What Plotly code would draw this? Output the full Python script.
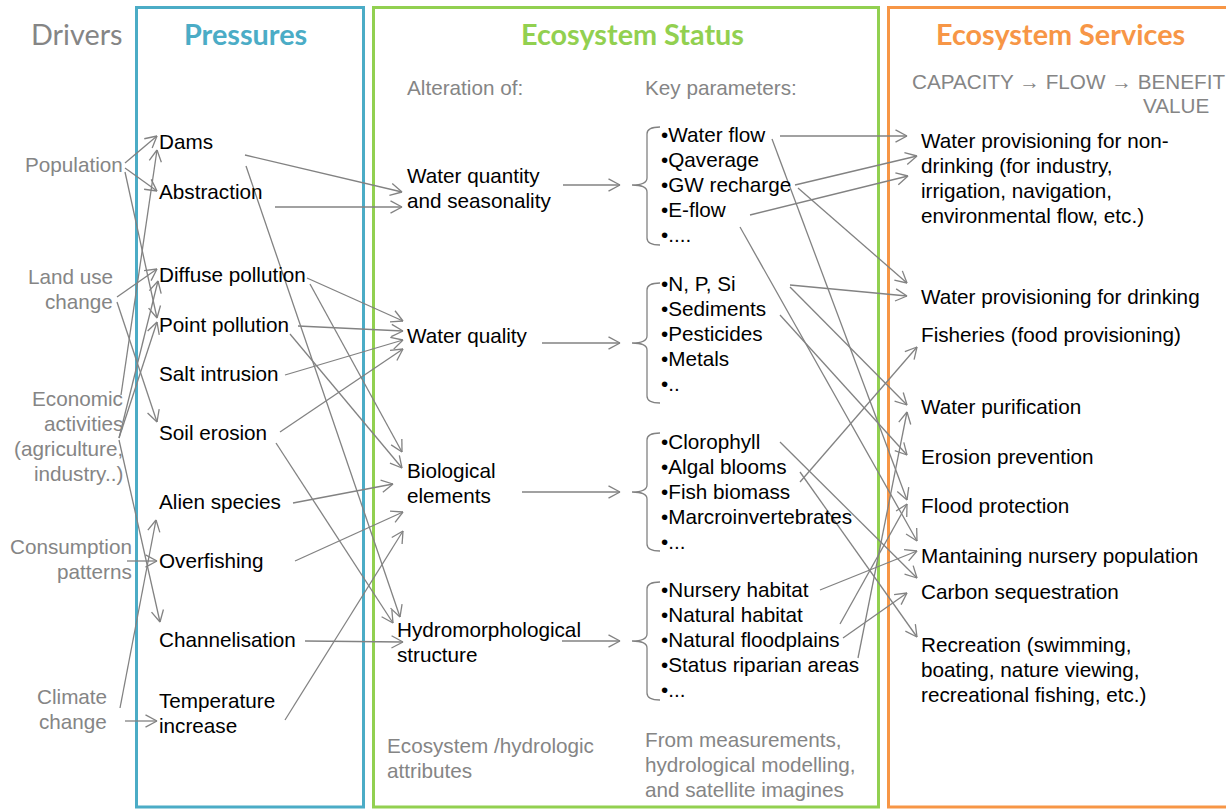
import math
import plotly.graph_objects as go

# ---------------- DATA (labels and links) ----------------
column_titles = ["Drivers", "Pressures", "Ecosystem Status", "Ecosystem Services"]

drivers = ["Population", "Land use\nchange", "Economic\nactivities\n(agriculture,\nindustry..)",
           "Consumption\npatterns", "Climate\nchange"]

pressures = ["Dams", "Abstraction", "Diffuse pollution", "Point pollution", "Salt intrusion",
             "Soil erosion", "Alien species", "Overfishing", "Channelisation", "Temperature\nincrease"]

alterations = ["Water quantity\nand seasonality", "Water quality", "Biological\nelements",
               "Hydromorphological\nstructure"]

quantity_params = ["Water flow", "Qaverage", "GW recharge", "E-flow", "...."]
quality_params = ["N, P, Si", "Sediments", "Pesticides", "Metals", ".."]
biological_params = ["Clorophyll", "Algal blooms", "Fish biomass", "Marcroinvertebrates", "..."]
hydro_params = ["Nursery habitat", "Natural habitat", "Natural floodplains", "Status riparian areas", "..."]
parameter_groups = [quantity_params, quality_params, biological_params, hydro_params]

services = ["Water provisioning for non-\ndrinking (for industry,\nirrigation, navigation,\nenvironmental flow, etc.)",
            "Water provisioning for drinking", "Fisheries (food provisioning)", "Water purification",
            "Erosion prevention", "Flood protection", "Mantaining nursery population",
            "Carbon sequestration",
            "Recreation (swimming,\nboating, nature viewing,\nrecreational fishing, etc.)"]

subheadings = ["Alteration of:", "Key parameters:", "CAPACITY \u2192 FLOW \u2192 BENEFIT", "VALUE",
               "Ecosystem /hydrologic\nattributes",
               "From measurements,\nhydrological modelling,\nand satellite imagines"]

driver_links = [("Population", "Dams"), ("Population", "Abstraction"), ("Population", "Point pollution"),
                ("Land use", "Diffuse pollution"), ("Land use", "Soil erosion"),
                ("Economic", "Dams"), ("Economic", "Diffuse pollution"), ("Economic", "Point pollution"),
                ("Economic", "Channelisation"), ("Consumption", "Overfishing"),
                ("Climate", "Alien species"), ("Climate", "Temperature")]

pressure_links = [("Dams", "Water quantity"), ("Dams", "Hydromorphological"), ("Abstraction", "Water quantity"),
                  ("Diffuse pollution", "Water quality"), ("Diffuse pollution", "Biological"),
                  ("Point pollution", "Water quality"), ("Point pollution", "Biological"),
                  ("Salt intrusion", "Water quality"), ("Soil erosion", "Water quality"),
                  ("Soil erosion", "Hydromorphological"), ("Alien species", "Biological"),
                  ("Overfishing", "Biological"), ("Channelisation", "Hydromorphological"),
                  ("Temperature", "Biological")]

status_links = [("Water quantity", "quantity"), ("Water quality", "quality"),
                ("Biological", "biological"), ("Hydromorphological", "hydro")]

service_links = [("Water flow", "Water provisioning for non"), ("Water flow", "Flood protection"),
                 ("GW recharge", "Water provisioning for non"), ("GW recharge", "Water provisioning for drinking"),
                 ("E-flow", "Water provisioning for non"), ("E-flow", "Mantaining nursery"),
                 ("N, P, Si", "Water provisioning for drinking"), ("N, P, Si", "Water purification"),
                 ("Sediments", "Erosion prevention"), ("Clorophyll", "Carbon sequestration"),
                 ("Algal blooms", "Recreation"), ("Fish biomass", "Fisheries"),
                 ("Nursery habitat", "Mantaining nursery"), ("Natural habitat", "Flood protection"),
                 ("Natural floodplains", "Carbon sequestration"), ("Status riparian areas", "Water purification")]

# ---------------- LAYOUT (positions, sizes, styles) ----------------
W, H = 1226, 809
GRAY_TXT = "#858585"
GRAY_LN = "#828282"
BLUE, GREEN, ORANGE = "#4bacc6", "#92d050", "#f79646"
BODY = "Liberation Sans, Arial, sans-serif"
HEAD = "Lato, Calibri, sans-serif"
FS = 20.7
HFS = 28.8
LH = 24.8
TEXT_DY = -1.2

title_pos = [(77, 35), (245, 35), (632, 35), (1060, 35)]
title_col = [GRAY_TXT, BLUE, GREEN, ORANGE]
title_bold = [False, True, True, True]

box_x = [(136.5, 363.5, BLUE), (373.5, 878.5, GREEN), (888.5, 1245, ORANGE)]
box_y = (7.5, 807)

driver_xy = [(123, 166), (113, 278), (123, 400), (132, 548), (107, 698)]
pressure_xy = [(159, y) for y in [143, 193, 276, 326, 375, 434, 503, 562, 641, 702]]
alteration_xy = [(407, 177), (407, 337), (407, 472), (397, 631)]
param_x, param_step = 661, 25
param_first_y = [136, 285, 443, 591]
brace_geom = [(127, 185, 245), (283, 343, 403), (433, 492, 551), (582, 641, 700)]
service_xy = [(921, y) for y in [142, 298, 336, 408, 458, 507, 557, 593, 646]]
sub_xy = [(407, 89, "left"), (645, 89, "left"), (912, 83, "left"), (1209, 107, "right"),
          (387, 747, "left"), (645, 741, "left")]

driver_link_xy = [(125, 163, 157, 136), (125, 168, 157, 191), (125, 172, 157, 318),
                  (117, 297, 157, 269), (117, 302, 157, 422),
                  (121, 395, 157, 150), (119, 438, 158, 281), (119, 438, 157, 322),
                  (119, 440, 160, 622), (127, 561, 157, 561),
                  (120, 708, 156, 520), (125, 721, 157, 721)]
pressure_link_xy = [(245, 155, 402, 192), (246, 166, 400, 617), (275, 207, 402, 207),
                    (307, 278, 403, 321), (310, 284, 402, 452),
                    (298, 326, 403, 331), (290, 334, 402, 468),
                    (285, 375, 403, 340), (280, 432, 403, 349),
                    (276, 443, 393, 623), (293, 503, 393, 484),
                    (295, 561, 403, 512), (305, 641, 403, 642),
                    (285, 720, 403, 531)]
status_link_xy = [(563, 185, 620, 185), (542, 343, 620, 343), (522, 492, 620, 492), (562, 641, 620, 641)]
service_link_xy = [(780, 136, 907, 136), (772, 139, 907, 500),
                   (795, 185, 917, 156), (798, 188, 907, 283),
                   (750, 215, 908, 176), (740, 227, 917, 541),
                   (790, 285, 907, 296), (790, 287, 907, 405),
                   (780, 315, 907, 455), (780, 442, 917, 578),
                   (800, 472, 917, 637), (800, 482, 917, 347),
                   (820, 590, 917, 551), (840, 624, 907, 504),
                   (843, 638, 907, 593), (858, 658, 907, 412)]

HEAD_LEN, HEAD_ANG = 13, math.radians(28)

# ---------------- BUILD ----------------
fig = go.Figure()
annotations = []


def add_text(text, x, y, xanchor="left", color="black", size=FS, family=BODY, bold=False, lh=LH):
    for i, line in enumerate(text.split("\n")):
        t = "<b>%s</b>" % line if bold else line
        annotations.append(dict(x=x, y=y + i * lh + TEXT_DY, xref="x", yref="y", text=t, showarrow=False,
                                xanchor=xanchor, yanchor="middle", borderpad=0, borderwidth=0,
                                font=dict(family=family, size=size, color=color)))


def resolve(name, labels):
    for lab in labels:
        if lab.replace("\n", " ").startswith(name):
            return lab
    raise KeyError(name)


# titles
for t, (x, y), c, b in zip(column_titles, title_pos, title_col, title_bold):
    add_text(t, x, y, "center", c, HFS, HEAD, b)

# boxes
shapes = []
for x0, x1, c in box_x:
    shapes.append(dict(type="rect", xref="x", yref="y", x0=x0, x1=x1, y0=box_y[0], y1=box_y[1],
                       line=dict(color=c, width=3), fillcolor="rgba(0,0,0,0)", layer="below"))

# node texts
for lab, (x, y) in zip(drivers, driver_xy):
    add_text(lab, x, y, "right", GRAY_TXT)
for lab, (x, y) in zip(pressures, pressure_xy):
    add_text(lab, x, y)
for lab, (x, y) in zip(alterations, alteration_xy):
    add_text(lab, x, y)
for grp, y0 in zip(parameter_groups, param_first_y):
    for i, lab in enumerate(grp):
        add_text("\u2022" + lab, param_x, y0 + i * param_step)
for lab, (x, y) in zip(services, service_xy):
    add_text(lab, x, y)
for lab, (x, y, anc) in zip(subheadings, sub_xy):
    add_text(lab, x, y, anc, GRAY_TXT)

# braces
for top, mid, bot in brace_geom:
    xh, xv, xt = 660, 647, 632
    p = ("M %s,%s Q %s,%s %s,%s L %s,%s Q %s,%s %s,%s Q %s,%s %s,%s L %s,%s Q %s,%s %s,%s" %
         (xh, top, xv, top, xv, top + 7, xv, mid - 7, xv, mid, xt, mid, xv, mid, xv, mid + 7,
          xv, bot - 7, xv, bot, xh, bot))
    shapes.append(dict(type="path", xref="x", yref="y", path=p, line=dict(color=GRAY_LN, width=1.3)))

# arrows (validate link names against labels, then draw via axis coordinates)
all_links = []
all_links += [((resolve(s, drivers), resolve(d, pressures)), g) for (s, d), g in zip(driver_links, driver_link_xy)]
all_links += [((resolve(s, pressures), resolve(d, alterations)), g) for (s, d), g in zip(pressure_links, pressure_link_xy)]
all_links += [((resolve(s, alterations), d), g) for (s, d), g in zip(status_links, status_link_xy)]
all_params = sum(parameter_groups, [])
all_links += [((resolve(s, all_params), resolve(d, services)), g) for (s, d), g in zip(service_links, service_link_xy)]

xs, ys = [], []
for _, (x0, y0, x1, y1) in all_links:
    xs += [x0, x1, None]
    ys += [y0, y1, None]
    ang = math.atan2(y1 - y0, x1 - x0)
    for s in (1, -1):
        a = ang + math.pi - s * HEAD_ANG
        xs += [x1, x1 + HEAD_LEN * math.cos(a), None]
        ys += [y1, y1 + HEAD_LEN * math.sin(a), None]

fig.add_trace(go.Scatter(x=xs, y=ys, mode="lines", line=dict(color=GRAY_LN, width=1.3),
                         hoverinfo="skip", showlegend=False))

fig.update_layout(width=W, height=H, margin=dict(l=0, r=0, t=0, b=0),
                  paper_bgcolor="white", plot_bgcolor="white",
                  xaxis=dict(range=[0, W], visible=False, fixedrange=True),
                  yaxis=dict(range=[H, 0], visible=False, fixedrange=True),
                  annotations=annotations, shapes=shapes, showlegend=False)

fig.write_html("out.html", config={"displayModeBar": False},
               post_script="document.body.style.margin='0';")
